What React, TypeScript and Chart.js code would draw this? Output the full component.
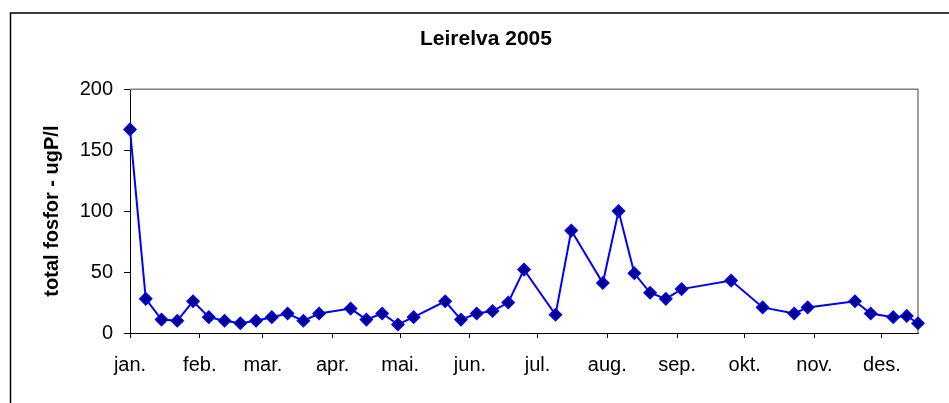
import React, { useEffect, useRef } from "react";
import { Chart, registerables } from "chart.js";

Chart.register(...registerables);

// Day of year (0 = 1 January 2005) of each sample
const sampleDays = [
  0, 7, 14, 21, 28, 35, 42, 49, 56, 63, 70, 77, 84, 98, 105, 112, 119, 126, 140, 147,
  154, 161, 168, 175, 189, 196, 210, 217, 224, 231, 238, 245, 267, 281, 295, 301, 322, 329, 339, 345,
  350,
];
// total fosfor (ugP/l)
const phosphorus = [
  167, 28, 11, 10, 26, 13, 10, 8, 10, 13, 16, 10, 16, 20, 11, 16, 7, 13, 26, 11,
  16, 18, 25, 52, 15, 84, 41, 100, 49, 33, 28, 36, 43, 21, 16, 21, 26, 16, 13, 14,
  8,
];
// Month start days and labels for the x axis
const monthStarts = [0, 31, 59, 90, 120, 151, 181, 212, 243, 273, 304, 334];
const monthLabels = ["jan.", "feb.", "mar.", "apr.", "mai.", "jun.", "jul.", "aug.", "sep.", "okt.", "nov.", "des."];
const yTicks = [0, 50, 100, 150, 200];

const FONT = "'Liberation Sans', Arial, Helvetica, sans-serif";

const framePlugin = {
  id: "frame",
  beforeDraw(chart: any) {
    const { ctx } = chart;
    ctx.save();
    ctx.fillStyle = "#ffffff";
    ctx.fillRect(0, 0, chart.width, chart.height);
    ctx.strokeStyle = "#000000";
    ctx.lineWidth = 1.5;
    ctx.beginPath();
    ctx.moveTo(10.5, chart.height + 10);
    ctx.lineTo(10.5, 13);
    ctx.lineTo(chart.width + 10, 13);
    ctx.stroke();
    ctx.restore();
  },
  beforeDatasetsDraw(chart: any) {
    const { ctx, chartArea } = chart;
    ctx.save();
    ctx.strokeStyle = "#808080";
    ctx.lineWidth = 1.5;
    ctx.beginPath();
    ctx.moveTo(chartArea.left, chartArea.top);
    ctx.lineTo(chartArea.right, chartArea.top);
    ctx.lineTo(chartArea.right, chartArea.bottom);
    ctx.stroke();
    ctx.restore();
  },
};

export default function App() {
  const canvasRef = useRef<HTMLCanvasElement | null>(null);

  useEffect(() => {
    const canvas = canvasRef.current;
    if (!canvas) return;
    Chart.defaults.font.family = FONT;
    Chart.defaults.color = "#000";
    const data = sampleDays.map((d, i) => ({ x: d, y: phosphorus[i] }));
    const chart = new Chart(canvas, {
      type: "line",
      data: {
        datasets: [
          {
            label: "total fosfor",
            data,
            borderColor: "#0000ff",
            borderWidth: 2,
            pointStyle: "rectRot",
            pointRadius: 6,
            pointBackgroundColor: "#000080",
            pointBorderColor: "#0000ff",
            pointBorderWidth: 1.5,
            tension: 0,
            clip: false,
          } as any,
        ],
      },
      options: {
        responsive: false,
        animation: false,
        devicePixelRatio: 1,
        layout: { padding: { left: 54, right: 31, top: 0, bottom: 0 } },
        plugins: {
          legend: { display: false },
          tooltip: { enabled: false },
          title: {
            display: true,
            text: "Leirelva 2005",
            color: "#000",
            font: { size: 21, weight: "bold", family: FONT },
            padding: { top: 27, bottom: 37 },
          },
        },
        scales: {
          x: {
            type: "linear",
            min: sampleDays[0],
            max: sampleDays[sampleDays.length - 1],
            afterBuildTicks: (axis: any) => {
              axis.ticks = monthStarts.map((v) => ({ value: v }));
            },
            afterFit: (axis: any) => {
              axis.height = 70;
            },
            ticks: {
              autoSkip: false,
              maxRotation: 0,
              padding: 15,
              color: "#000",
              font: { size: 20, family: FONT },
              callback: (value: any) => {
                const i = monthStarts.indexOf(Number(value));
                return i >= 0 ? monthLabels[i] : "";
              },
            },
            grid: {
              drawOnChartArea: false,
              drawTicks: true,
              tickLength: 5,
              color: "#000",
              tickColor: "#000",
            },
            border: { display: true, color: "#000", width: 1 },
          },
          y: {
            type: "linear",
            min: yTicks[0],
            max: yTicks[yTicks.length - 1],
            afterBuildTicks: (axis: any) => {
              axis.ticks = yTicks.map((v) => ({ value: v }));
            },
            afterFit: (axis: any) => {
              axis.width = 76;
            },
            ticks: {
              padding: 11,
              color: "#000",
              font: { size: 20, family: FONT },
            },
            grid: {
              drawOnChartArea: false,
              drawTicks: true,
              tickLength: 6,
              color: "#000",
              tickColor: "#000",
            },
            border: { display: true, color: "#000", width: 1 },
            title: {
              display: true,
              text: "total fosfor - ugP/l",
              color: "#000",
              font: { size: 20, weight: "bold", family: FONT },
              padding: { top: -14, bottom: 0 },
            },
          },
        },
      },
      plugins: [framePlugin],
    });
    return () => chart.destroy();
  }, []);

  return (
    <div
      style={{
        position: "fixed",
        left: 0,
        top: 0,
        width: 949,
        height: 403,
        overflow: "hidden",
        background: "#fff",
      }}
    >
      <canvas ref={canvasRef} width={949} height={403} style={{ display: "block", width: 949, height: 403 }} />
    </div>
  );
}
